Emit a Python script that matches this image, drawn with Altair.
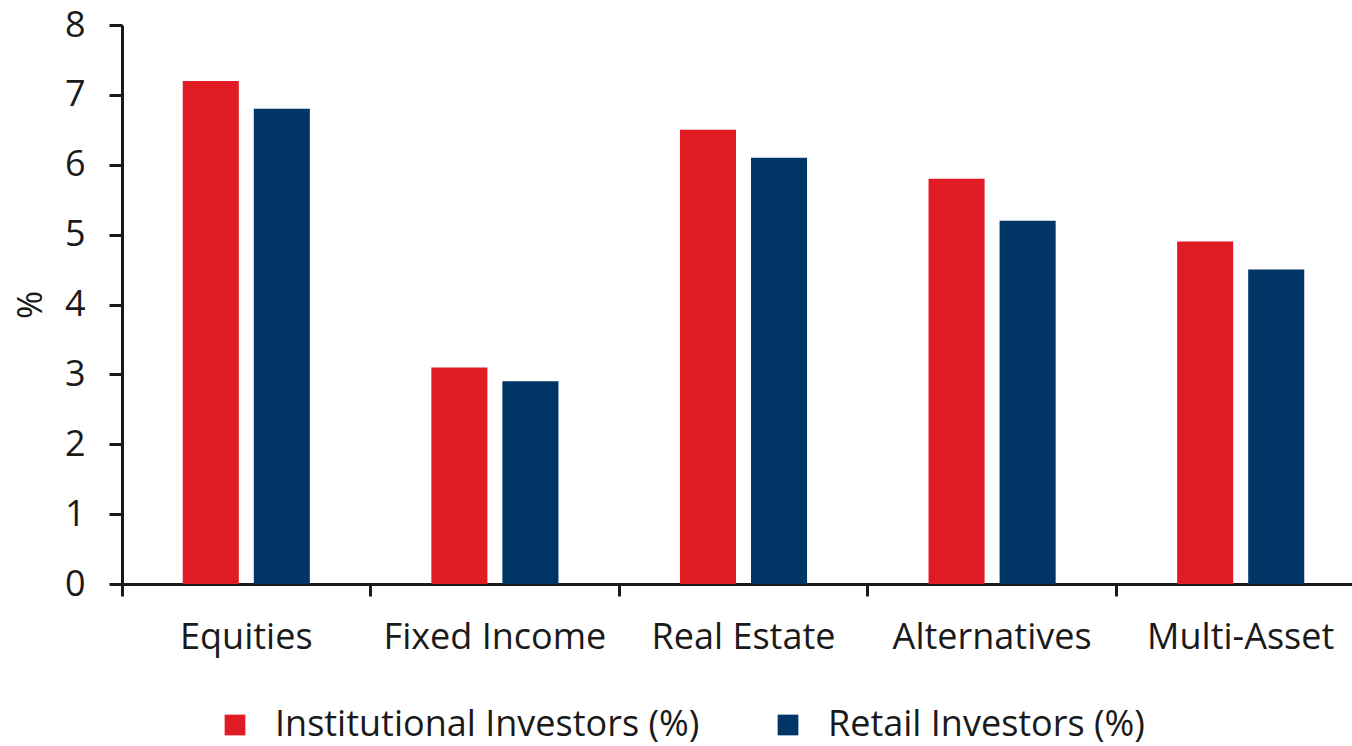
import altair as alt
import pandas as pd

categories = ["Equities", "Fixed Income", "Real Estate", "Alternatives", "Multi-Asset"]
institutional = [7.2, 3.1, 6.5, 5.8, 4.9]
retail = [6.8, 2.9, 6.1, 5.2, 4.5]
series_names = ["Institutional Investors (%)", "Retail Investors (%)"]
colors = ["#E01B24", "#003566"]

rows = []
for c, a, b in zip(categories, institutional, retail):
    rows.append({"cat": c, "series": series_names[0], "value": a})
    rows.append({"cat": c, "series": series_names[1], "value": b})
df = pd.DataFrame(rows)

FONT = "Open Sans"
INK = "#1a1a1a"

chart = alt.Chart(df).mark_bar().encode(
    x=alt.X("cat:N", sort=categories, title=None,
            scale=alt.Scale(paddingInner=0, paddingOuter=0, range=[0, 1243]),
            axis=alt.Axis(labelAngle=0, labelFontSize=36, labelFont=FONT, labelColor=INK,
                          labelPadding=24, labelLimit=500, domainColor=INK, domainWidth=3,
                          tickColor=INK, tickWidth=3, tickSize=12, bandPosition=0,
                          ticks=True)),
    xOffset=alt.XOffset("series:N", sort=series_names,
                        scale=alt.Scale(paddingInner=0.211, paddingOuter=0.855)),
    y=alt.Y("value:Q", title="%",
            scale=alt.Scale(domain=[0, 8], nice=False),
            axis=alt.Axis(values=list(range(0, 9)), labelFontSize=36, labelFont=FONT,
                          labelColor=INK, labelPadding=24, grid=False,
                          domainColor=INK, domainWidth=3, tickColor=INK,
                          tickWidth=3, tickSize=13, titleFont=FONT, titleFontSize=34,
                          titleFontWeight="normal", titleColor=INK, titlePadding=16)),
    color=alt.Color("series:N", sort=series_names,
                    scale=alt.Scale(domain=series_names, range=colors),
                    legend=alt.Legend(title=None, orient="none", legendX=95, legendY=682,
                                      direction="horizontal", symbolType="square",
                                      symbolSize=430, symbolStrokeWidth=0,
                                      labelFont=FONT, labelFontSize=36, labelColor=INK,
                                      labelOffset=22, columnPadding=70, labelLimit=700)),
).properties(
    width=1230, height=559,
    padding={"left": 122, "top": 25, "right": 0, "bottom": 162},
    autosize=alt.AutoSizeParams(type="none"),
    background="white",
).configure_view(stroke=None)

chart.save("out.html", embed_options={"renderer": "svg", "actions": False})
